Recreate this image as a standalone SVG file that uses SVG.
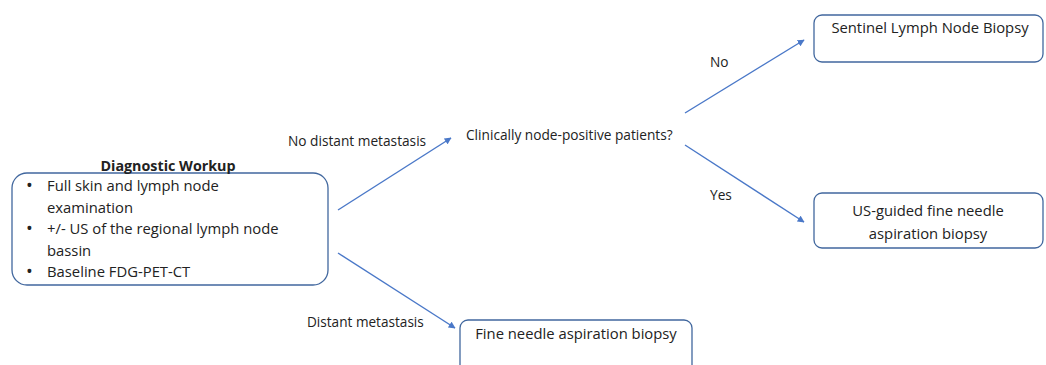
<svg xmlns="http://www.w3.org/2000/svg" width="1046" height="365" viewBox="0 0 1046 365">
<defs>
<style>
text{font-family:"Open Sans","Liberation Sans",sans-serif;font-size:13.7px;fill:#222}
.b{font-size:14.8px}
.d{font-size:18px;fill:#222}
.box{fill:#fff;stroke:#41679e;stroke-width:1.3}
.con{stroke:#4a78c8;stroke-width:1.4;fill:none;marker-end:url(#ah)}
.c{text-anchor:middle}
</style>
<marker id="ah" viewBox="0 0 10 10" refX="9" refY="5" markerWidth="7" markerHeight="7" orient="auto" markerUnits="userSpaceOnUse">
<path d="M0,0 L10,5 L0,10 z" fill="#4a78c8"/>
</marker>
</defs>
<rect width="1046" height="365" fill="#fff"/>
<g id="connectors">
<line class="con" x1="338" y1="210" x2="451" y2="138"/>
<line class="con" x1="338" y1="253" x2="455" y2="328"/>
<line class="con" x1="685" y1="113" x2="804" y2="40"/>
<line class="con" x1="685" y1="145" x2="804" y2="222"/>
<text x="288" y="146">No distant metastasis</text>
<text x="307" y="327" style="font-size:13.6px">Distant metastasis</text>
<text x="710" y="67">No</text>
<text x="710" y="200">Yes</text>
</g>
<g id="workup">
<rect class="box" x="12" y="173" width="316" height="112" rx="15"/>
<text x="168" y="171" class="c" style="font-weight:bold;font-size:14.3px">Diagnostic Workup</text>
<text x="26" y="192" class="d">•</text><text x="47" y="191" class="b">Full skin and lymph node</text>
<text x="47" y="213" class="b">examination</text>
<text x="26" y="235" class="d">•</text><text x="47" y="234" class="b">+/- US of the regional lymph node</text>
<text x="47" y="256" class="b">bassin</text>
<text x="26" y="278" class="d">•</text><text x="47" y="277" class="b">Baseline FDG-PET-CT</text>
</g>
<g id="question">
<text x="466" y="140">Clinically node-positive patients?</text>
</g>
<g id="slnb">
<rect class="box" x="814" y="15" width="229" height="47" rx="8"/>
<text x="930" y="33" class="c b">Sentinel Lymph Node Biopsy</text>
</g>
<g id="usfna">
<rect class="box" x="814" y="193" width="229" height="55" rx="8"/>
<text x="928" y="216" class="c b">US-guided fine needle</text>
<text x="928" y="239" class="c b">aspiration biopsy</text>
</g>
<g id="fna">
<rect class="box" x="460" y="320" width="232" height="60" rx="8"/>
<text x="576" y="339" class="c b">Fine needle aspiration biopsy</text>
</g>
</svg>
